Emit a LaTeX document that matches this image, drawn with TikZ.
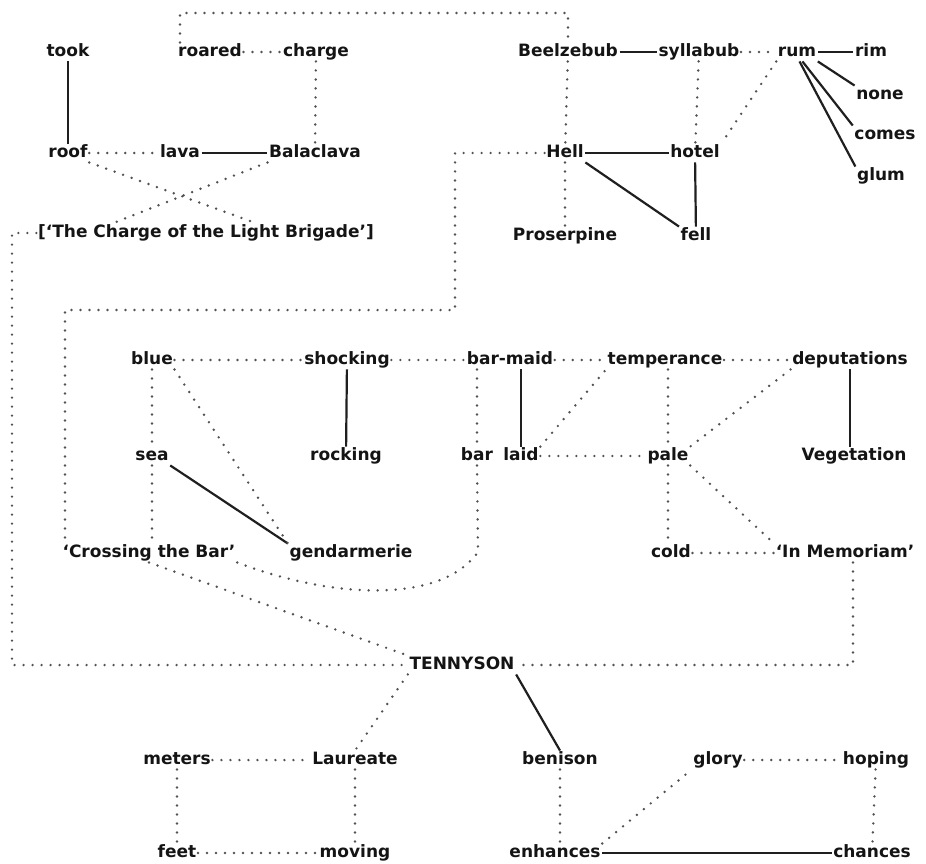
\documentclass[tikz,border=0pt]{standalone}
\usepackage{fontspec}
\setmainfont{DejaVu Sans}
\usetikzlibrary{calc}
\begin{document}
\begin{tikzpicture}[x=1pt,y=-1pt,
  w/.style={font=\bfseries\fontsize{17}{20}\selectfont, inner sep=1.5pt, text=black!92, text height=12pt, text depth=3.5pt},
  sl/.style={line width=2.2pt, black!88},
  dl/.style={line width=2.7pt, black!68, line cap=round, dash pattern=on 0pt off 9pt},
]
\useasboundingbox (0,0) rectangle (926,864);
% nodes
\node[w] (took) at (68,52) {took};
\node[w] (roared) at (210,52) {roared};
\node[w] (charge) at (316,52) {charge};
\node[w] (beel) at (568,52) {Beelzebub};
\node[w] (sylla) at (699,52) {syllabub};
\node[w] (rum) at (797,52) {rum};
\node[w] (rim) at (871,52) {rim};
\node[w] (none) at (880,95) {none};
\node[w] (comes) at (885,135) {comes};
\node[w] (glum) at (881,176) {glum};
\node[w] (roof) at (68,153) {roof};
\node[w] (lava) at (180,153) {lava};
\node[w] (bala) at (315,153) {Balaclava};
\node[w] (hell) at (565,153) {Hell};
\node[w] (hotel) at (695,153) {hotel};
\node[w] (title) at (206,233) {[`The Charge of the Light Brigade']};
\node[w] (pros) at (565,236) {Proserpine};
\node[w] (fell) at (696,236) {fell};
\node[w] (blue) at (152,360) {blue};
\node[w] (shock) at (347,360) {shocking};
\node[w] (barmaid) at (510,360) {bar-maid};
\node[w] (temp) at (665,360) {temperance};
\node[w] (dep) at (850,360) {deputations};
\node[w] (sea) at (152,456) {sea};
\node[w] (rock) at (346,456) {rocking};
\node[w] (bar) at (477,456) {bar};
\node[w] (laid) at (521,456) {laid};
\node[w] (pale) at (668,456) {pale};
\node[w] (veg) at (854,456) {Vegetation};
\node[w] (cross) at (149,553) {`Crossing the Bar'};
\node[w] (gend) at (351,553) {gendarmerie};
\node[w] (cold) at (671,553) {cold};
\node[w] (inmem) at (845,553) {`In Memoriam'};
\node[w] (tenn) at (462,665) {TENNYSON};
\node[w] (meters) at (177,760) {meters};
\node[w] (laur) at (355,760) {Laureate};
\node[w] (beni) at (560,760) {benison};
\node[w] (glory) at (718,760) {glory};
\node[w] (hoping) at (876,760) {hoping};
\node[w] (feet) at (177,853) {feet};
\node[w] (moving) at (355,853) {moving};
\node[w] (enh) at (555,853) {enhances};
\node[w] (chances) at (872,853) {chances};
% helper coordinates
\coordinate (c1) at (180,13);
\coordinate (h1) at (455,310);
\coordinate (h2) at (65,310);
\coordinate (t1) at (12,665);
\coordinate (t2) at (853,0);
\coordinate (tA) at (257,0);
\coordinate (tB) at (112,0);
\coordinate (b1) at (478,552);
% solid connectors
\draw[sl] (took) -- (roof);
\draw[sl] (lava) -- (bala);
\draw[sl] (beel) -- (sylla);
\draw[sl] (rum) -- (rim);
\draw[sl] (rum.south east) -- (none.north west);
\draw[sl] (rum.-60) -- (comes.north west);
\draw[sl] (rum.-75) -- (glum.north west);
\draw[sl] (hell) -- (hotel);
\draw[sl] (hell.south east) -- (fell.north west);
\draw[sl] (hotel) -- (fell);
\draw[sl] (shock) -- (rock);
\draw[sl] (barmaid.south -| laid.north) -- (laid.north);
\draw[sl] (sea.south east) -- (gend.north west);
\draw[sl] (dep.south) -- (dep.south |- veg.north);
\draw[sl] (tenn.south east) -- (beni.north);
\draw[sl] (enh) -- (chances);
% dotted connectors
\draw[dl] (roared) -- (charge);
\draw[dl] (charge) -- (bala);
\draw[dl] (roof) -- (lava);
\draw[dl] (roof.south east) -- (title.north -| tA);
\draw[dl] (bala.south west) -- (title.north -| tB);
\draw[dl] (roared.north -| c1) -- (c1) -| (beel.north);
\draw[dl] (beel) -- (hell);
\draw[dl] (hell) -- (pros);
\draw[dl] (sylla) -- (rum);
\draw[dl] (sylla) -- (hotel);
\draw[dl] (rum.south west) -- (hotel.north east);
\draw[dl] (hell.west) -| (h1) -- (h2) -- (h2 |- cross.north);
\draw[dl] (title.west) -| (t1) -- (tenn.west);
\draw[dl] (blue) -- (shock);
\draw[dl] (shock) -- (barmaid);
\draw[dl] (barmaid) -- (temp);
\draw[dl] (temp) -- (dep);
\draw[dl] (blue.south east) -- (gend.north west);
\draw[dl] (blue) -- (sea);
\draw[dl] (sea.south) -- (sea.south |- cross.north);
\draw[dl] (barmaid.south -| bar.north) -- (bar.north);
\draw[dl] (bar.south) -- (b1) .. controls (440,605) and (330,598) .. (cross.south east);
\draw[dl] (laid.north east) -- (temp.south west);
\draw[dl] (laid) -- (pale);
\draw[dl] (temp.south -| pale.north) -- (pale.north);
\draw[dl] (pale.south) -- (pale.south |- cold.north);
\draw[dl] (dep.south west) -- (pale.north east);
\draw[dl] (pale.south east) -- (inmem.north west);
\draw[dl] (cold) -- (inmem);
\draw[dl] (inmem.south -| t2) |- (tenn.east);
\draw[dl] (cross.south) -- (tenn.north west);
\draw[dl] (tenn.south west) -- (laur.north);
\draw[dl] (meters) -- (laur);
\draw[dl] (meters) -- (feet);
\draw[dl] (laur) -- (moving);
\draw[dl] (feet) -- (moving);
\draw[dl] (beni.south) -- (beni.south |- enh.north);
\draw[dl] (enh.north east) -- (glory.south west);
\draw[dl] (glory) -- (hoping);
\draw[dl] (hoping) -- (chances);
\end{tikzpicture}
\end{document}
